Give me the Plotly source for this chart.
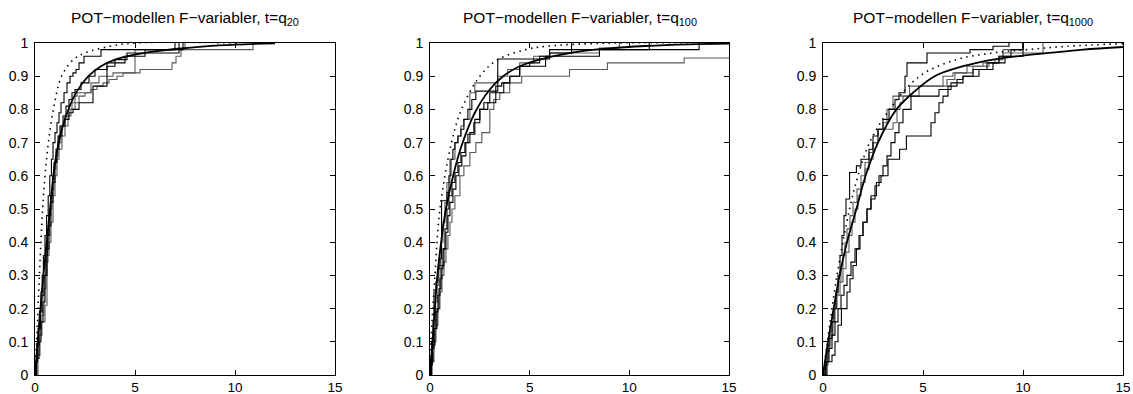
import plotly.graph_objects as go

# ---------------- data ----------------
x_ticks = [0, 5, 10, 15]
y_ticks = [0, 0.1, 0.2, 0.3, 0.4, 0.5, 0.6, 0.7, 0.8, 0.9, 1]
y_tick_labels = ["0", "0.1", "0.2", "0.3", "0.4", "0.5", "0.6", "0.7", "0.8", "0.9", "1"]
titles = ["POT−modellen F−variabler, t=q<sub>20</sub>",
          "POT−modellen F−variabler, t=q<sub>100</sub>",
          "POT−modellen F−variabler, t=q<sub>1000</sub>"]

# panel 1 (t = q20)
p1_fit_x = [0, 0.2, 0.42, 0.6, 0.75, 1.0, 1.3, 1.67, 2.1, 2.67, 3.3, 4.0, 5.0, 6.0, 7.0, 8.5, 10.0, 12.0]
p1_fit_y = [0, 0.15, 0.3, 0.41, 0.5, 0.64, 0.73, 0.8, 0.855, 0.9, 0.93, 0.95, 0.965, 0.975, 0.982, 0.99, 0.995, 0.999]
p1_dot_x = [0, 0.08, 0.22, 0.38, 0.5, 0.67, 0.92, 1.33, 1.92, 2.5, 3.75, 5.0, 10.3]
p1_dot_y = [0, 0.1, 0.3, 0.5, 0.6, 0.7, 0.8, 0.9, 0.95, 0.97, 0.99, 1.0, 1.0]
p1_a_x = [0.04, 0.1, 0.16, 0.22, 0.3, 0.36, 0.42, 0.5, 0.58, 0.66, 0.74, 0.82, 0.9, 1.0, 1.1, 1.2, 1.3, 1.45, 1.6, 1.75, 1.9, 2.05, 2.2, 2.45, 3.3, 7.4]
p1_a_y = [0.04, 0.09, 0.14, 0.19, 0.25, 0.3, 0.36, 0.42, 0.48, 0.54, 0.6, 0.65, 0.7, 0.73, 0.76, 0.79, 0.82, 0.85, 0.88, 0.9, 0.91, 0.92, 0.94, 0.96, 0.98, 1.0]
p1_b_x = [0.1, 0.2, 0.3, 0.45, 0.55, 0.65, 0.75, 0.85, 0.95, 1.05, 1.15, 1.3, 1.5, 1.7, 1.85, 2.0, 2.1, 2.8, 3.2, 3.9, 5.0, 10.9]
p1_b_y = [0.06, 0.12, 0.18, 0.26, 0.34, 0.42, 0.5, 0.56, 0.62, 0.66, 0.7, 0.75, 0.78, 0.8, 0.82, 0.84, 0.85, 0.88, 0.9, 0.91, 0.98, 1.0]
p1_c_x = [0.08, 0.2, 0.3, 0.4, 0.5, 0.6, 0.7, 0.8, 0.9, 1.0, 1.1, 1.2, 1.35, 1.5, 1.7, 1.9, 2.2, 2.9, 3.6, 4.0, 4.6, 7.2]
p1_c_y = [0.05, 0.1, 0.16, 0.22, 0.3, 0.38, 0.45, 0.52, 0.58, 0.64, 0.68, 0.72, 0.75, 0.77, 0.79, 0.8, 0.82, 0.87, 0.93, 0.95, 0.97, 1.0]
p1_d_x = [0.15, 0.25, 0.35, 0.5, 0.6, 0.7, 0.8, 0.9, 1.0, 1.1, 1.2, 1.35, 1.5, 1.65, 1.8, 2.0, 2.2, 2.5, 2.8, 3.1, 3.4, 3.7, 4.1, 4.4, 5.25, 6.85, 7.05, 7.3, 7.5]
p1_d_y = [0.06, 0.12, 0.16, 0.21, 0.36, 0.4, 0.46, 0.54, 0.6, 0.65, 0.68, 0.72, 0.75, 0.78, 0.8, 0.82, 0.84, 0.85, 0.86, 0.87, 0.88, 0.89, 0.9, 0.91, 0.92, 0.94, 0.96, 0.98, 1.0]
p1_e_x = [0.05, 0.12, 0.2, 0.28, 0.35, 0.45, 0.55, 0.62, 0.7, 0.78, 0.88, 0.95, 1.05, 1.15, 1.25, 1.4, 1.55, 1.7, 1.85, 2.0, 2.3, 2.7, 3.0, 3.6, 4.5, 5.5, 7.0]
p1_e_y = [0.04, 0.09, 0.14, 0.19, 0.24, 0.3, 0.36, 0.42, 0.48, 0.54, 0.6, 0.64, 0.68, 0.72, 0.75, 0.78, 0.81, 0.83, 0.85, 0.86, 0.88, 0.9, 0.92, 0.94, 0.96, 0.98, 1.0]

# panel 2 (t = q100)
p2_fit_x = [0, 0.15, 0.37, 0.6, 0.8, 1.2, 1.58, 2.25, 3.0, 3.67, 4.5, 5.5, 7.2, 9.0, 10.8, 13.0, 15.0]
p2_fit_y = [0, 0.12, 0.3, 0.42, 0.5, 0.61, 0.69, 0.79, 0.86, 0.9, 0.93, 0.95, 0.972, 0.984, 0.991, 0.996, 0.998]
p2_dot_x = [0, 0.05, 0.25, 0.5, 1.08, 1.58, 2.5, 3.4, 4.8, 5.8, 9.2, 14.3]
p2_dot_y = [0, 0.1, 0.3, 0.5, 0.7, 0.8, 0.9, 0.95, 0.98, 0.99, 1.0, 1.0]
p2_a_x = [0.03, 0.08, 0.15, 0.2, 0.3, 0.4, 0.5, 0.58, 0.85, 0.95, 1.05, 1.15, 1.25, 1.4, 1.55, 1.7, 1.9, 2.1, 2.3, 3.4, 6.0, 7.1]
p2_a_y = [0.05, 0.1, 0.16, 0.25, 0.28, 0.32, 0.35, 0.525, 0.55, 0.6, 0.65, 0.68, 0.7, 0.72, 0.74, 0.77, 0.8, 0.83, 0.855, 0.952, 0.97, 1.0]
p2_b_x = [0.05, 0.1, 0.2, 0.28, 0.36, 0.45, 0.55, 0.65, 0.75, 0.85, 1.0, 1.25, 1.4, 1.55, 1.7, 2.0, 2.25, 3.4, 3.9, 4.5, 5.2, 6.0, 8.5, 9.5]
p2_b_y = [0.04, 0.1, 0.15, 0.22, 0.27, 0.33, 0.4, 0.46, 0.52, 0.58, 0.65, 0.7, 0.72, 0.75, 0.77, 0.85, 0.88, 0.9, 0.92, 0.94, 0.96, 0.97, 0.985, 1.0]
p2_c_x = [0.08, 0.15, 0.25, 0.35, 0.45, 0.55, 0.65, 0.75, 0.85, 0.95, 1.1, 1.25, 1.4, 1.55, 1.75, 1.9, 2.25, 2.5, 2.7, 3.0, 3.3, 3.6, 4.0, 4.5, 5.0, 5.5, 6.0, 13.5]
p2_c_y = [0.04, 0.09, 0.14, 0.2, 0.26, 0.32, 0.38, 0.44, 0.5, 0.54, 0.58, 0.61, 0.64, 0.67, 0.7, 0.725, 0.77, 0.8, 0.82, 0.85, 0.87, 0.88, 0.9, 0.93, 0.94, 0.96, 0.98, 1.0]
p2_d_x = [0.1, 0.2, 0.3, 0.4, 0.5, 0.6, 0.7, 0.8, 0.9, 1.0, 1.1, 1.25, 1.5, 1.7, 2.0, 2.3, 2.6, 3.0, 3.2, 3.5, 4.0, 4.6, 7.0, 8.9, 12.75, 15.0]
p2_d_y = [0.04, 0.1, 0.15, 0.2, 0.25, 0.3, 0.34, 0.38, 0.42, 0.46, 0.5, 0.54, 0.6, 0.63, 0.67, 0.7, 0.73, 0.8, 0.83, 0.85, 0.88, 0.9, 0.92, 0.94, 0.955, 0.955]
p2_e_x = [0.05, 0.12, 0.2, 0.3, 0.4, 0.5, 0.6, 0.7, 0.8, 0.9, 1.0, 1.15, 1.3, 1.45, 1.6, 1.8, 2.0, 2.2, 2.5, 2.9, 3.3, 3.7, 4.0, 4.5, 5.8, 8.5, 11.0]
p2_e_y = [0.03, 0.08, 0.14, 0.19, 0.24, 0.29, 0.33, 0.38, 0.43, 0.48, 0.52, 0.56, 0.6, 0.63, 0.66, 0.7, 0.73, 0.76, 0.8, 0.82, 0.85, 0.88, 0.9, 0.93, 0.96, 0.98, 1.0]

# panel 3 (t = q1000)
p3_fit_x = [0, 0.25, 0.53, 0.83, 1.2, 1.67, 2.13, 2.75, 3.67, 4.5, 5.58, 7.0, 8.5, 10.0, 11.3, 13.0, 15.0]
p3_fit_y = [0, 0.1, 0.2, 0.3, 0.4, 0.5, 0.6, 0.7, 0.8, 0.85, 0.9, 0.93, 0.95, 0.962, 0.97, 0.98, 0.988]
p3_dot_x = [0, 0.22, 0.7, 1.33, 1.75, 2.33, 3.33, 4.83, 6.67, 8.5, 10.2, 12.2, 15.0]
p3_dot_y = [0, 0.1, 0.3, 0.5, 0.6, 0.7, 0.8, 0.9, 0.95, 0.97, 0.98, 0.99, 0.998]
p3_a_x = [0.1, 0.2, 0.3, 0.45, 0.55, 0.65, 0.75, 0.85, 0.95, 1.05, 1.15, 1.33, 1.67, 1.9, 2.3, 2.5, 2.75, 3.0, 3.3, 3.6, 3.8, 4.1, 4.2, 5.2, 7.35, 8.5, 9.3]
p3_a_y = [0.04, 0.07, 0.11, 0.16, 0.2, 0.25, 0.3, 0.36, 0.42, 0.48, 0.53, 0.61, 0.63, 0.65, 0.68, 0.72, 0.74, 0.77, 0.8, 0.83, 0.85, 0.9, 0.94, 0.97, 0.98, 0.99, 1.0]
p3_b_x = [0.12, 0.25, 0.35, 0.5, 0.6, 0.7, 0.85, 1.0, 1.15, 1.3, 1.45, 1.6, 1.75, 1.9, 2.1, 2.3, 2.5, 2.75, 3.0, 3.2, 3.5, 4.33, 6.2, 6.6, 7.5, 8.3, 8.8, 9.0, 10.0]
p3_b_y = [0.03, 0.08, 0.12, 0.16, 0.2, 0.24, 0.28, 0.32, 0.37, 0.42, 0.46, 0.5, 0.54, 0.58, 0.62, 0.65, 0.7, 0.74, 0.76, 0.8, 0.84, 0.87, 0.89, 0.91, 0.93, 0.94, 0.96, 0.98, 1.0]
p3_c_x = [0.2, 0.45, 0.6, 0.75, 0.92, 1.2, 1.35, 1.5, 1.67, 1.85, 2.0, 2.2, 2.4, 2.67, 2.9, 3.25, 3.83, 4.17, 5.4, 5.6, 5.8, 6.0, 6.25, 6.7, 7.0, 7.5, 8.2, 8.8, 9.4, 10.0]
p3_c_y = [0.04, 0.06, 0.1, 0.15, 0.2, 0.25, 0.29, 0.33, 0.38, 0.42, 0.46, 0.5, 0.54, 0.58, 0.6, 0.65, 0.68, 0.72, 0.76, 0.79, 0.82, 0.84, 0.87, 0.89, 0.9, 0.92, 0.94, 0.96, 0.98, 1.0]
p3_d_x = [0.05, 0.15, 0.25, 0.35, 0.45, 0.55, 0.65, 0.75, 0.9, 1.0, 1.1, 1.2, 1.35, 1.5, 1.7, 1.9, 2.1, 2.3, 2.5, 2.75, 3.5, 3.7, 3.85, 4.0, 4.8, 6.0, 6.5, 7.2, 8.0, 8.6, 9.0, 11.0]
p3_d_y = [0.02, 0.05, 0.09, 0.13, 0.17, 0.2, 0.24, 0.28, 0.32, 0.36, 0.4, 0.44, 0.48, 0.52, 0.56, 0.6, 0.64, 0.67, 0.7, 0.74, 0.76, 0.8, 0.82, 0.84, 0.87, 0.9, 0.91, 0.93, 0.94, 0.95, 0.97, 1.0]
p3_e_x = [0.15, 0.3, 0.45, 0.6, 0.75, 0.9, 1.05, 1.2, 1.4, 1.6, 1.8, 2.0, 2.2, 2.4, 2.6, 2.8, 3.0, 3.2, 3.4, 3.6, 3.8, 4.0, 4.4, 5.8, 6.4, 7.0, 7.8, 8.5, 9.1, 10.0]
p3_e_y = [0.04, 0.08, 0.12, 0.16, 0.2, 0.24, 0.27, 0.3, 0.34, 0.38, 0.42, 0.46, 0.5, 0.53, 0.57, 0.6, 0.63, 0.66, 0.7, 0.73, 0.76, 0.8, 0.84, 0.86, 0.88, 0.9, 0.92, 0.94, 0.96, 1.0]

# ---------------- figure ----------------
W, H = 1133, 394
BLACK = "#000000"
GRAY = "#5a5a5a"
FONT = "Liberation Sans, Arial, Helvetica, sans-serif"

panels = [
    dict(fit=(p1_fit_x, p1_fit_y), dot=(p1_dot_x, p1_dot_y),
         steps=[(p1_b_x, p1_b_y, GRAY), (p1_d_x, p1_d_y, GRAY), (p1_a_x, p1_a_y, BLACK),
                (p1_c_x, p1_c_y, BLACK), (p1_e_x, p1_e_y, BLACK)],
         px=(35, 335)),
    dict(fit=(p2_fit_x, p2_fit_y), dot=(p2_dot_x, p2_dot_y),
         steps=[(p2_b_x, p2_b_y, GRAY), (p2_d_x, p2_d_y, GRAY), (p2_a_x, p2_a_y, BLACK),
                (p2_c_x, p2_c_y, BLACK), (p2_e_x, p2_e_y, BLACK)],
         px=(430, 729)),
    dict(fit=(p3_fit_x, p3_fit_y), dot=(p3_dot_x, p3_dot_y),
         steps=[(p3_b_x, p3_b_y, GRAY), (p3_d_x, p3_d_y, GRAY), (p3_a_x, p3_a_y, BLACK),
                (p3_c_x, p3_c_y, BLACK), (p3_e_x, p3_e_y, BLACK)],
         px=(823, 1123)),
]

top_px, bot_px = 43, 375
ydom = [1 - bot_px / H, 1 - top_px / H]

fig = go.Figure()
annotations = []
layout_axes = {}
for i, p in enumerate(panels):
    n = "" if i == 0 else str(i + 1)
    xa, ya = "x" + n, "y" + n
    for sx, sy, col in p["steps"]:
        fig.add_trace(go.Scatter(x=[0] + sx, y=[0] + sy, mode="lines", xaxis=xa, yaxis=ya,
                                 line=dict(color=col, width=1.1, shape="hv"),
                                 showlegend=False, hoverinfo="skip"))
    fig.add_trace(go.Scatter(x=p["dot"][0], y=p["dot"][1], mode="lines", xaxis=xa, yaxis=ya,
                             line=dict(color=BLACK, width=1.6, dash="1.5px,4.5px", shape="spline"),
                             showlegend=False, hoverinfo="skip"))
    fig.add_trace(go.Scatter(x=p["fit"][0], y=p["fit"][1], mode="lines", xaxis=xa, yaxis=ya,
                             line=dict(color=BLACK, width=1.8, shape="spline"),
                             showlegend=False, hoverinfo="skip"))
    x0, x1 = p["px"]
    common = dict(showline=True, linecolor=BLACK, linewidth=1, mirror="ticks",
                  ticks="inside", ticklen=5, tickwidth=1, tickcolor=BLACK,
                  showgrid=False, zeroline=False, automargin=False)
    layout_axes["xaxis" + n] = dict(domain=[x0 / W, x1 / W], range=[0, 15], anchor=ya,
                                    tickvals=x_ticks, ticklabelstandoff=0,
                                    tickfont=dict(family=FONT, size=13.5, color=BLACK), **common)
    layout_axes["yaxis" + n] = dict(domain=ydom, range=[0, 1], anchor=xa,
                                    tickvals=y_ticks, ticktext=y_tick_labels,
                                    ticklabelstandoff=3,
                                    tickfont=dict(family=FONT, size=14, color=BLACK), **common)
    annotations.append(dict(text=titles[i], x=(x0 + x1) / 2 / W, y=1 - 19 / H,
                            xref="paper", yref="paper", xanchor="center", yanchor="middle",
                            showarrow=False, font=dict(family=FONT, size=15.5, color=BLACK)))

fig.update_layout(width=W, height=H, margin=dict(l=0, r=0, t=0, b=0),
                  paper_bgcolor="white", plot_bgcolor="white",
                  annotations=annotations, **layout_axes)

fig.write_html("out.html")
